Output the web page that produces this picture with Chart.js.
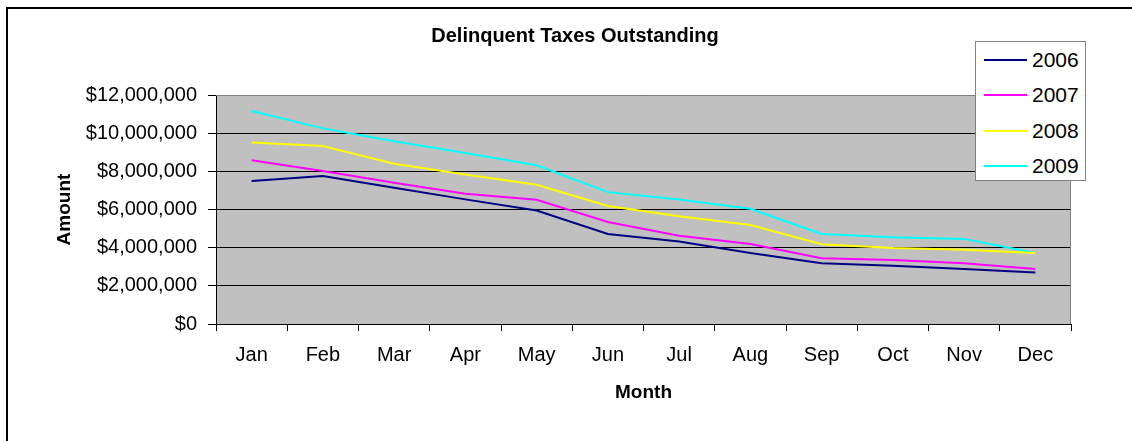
<!DOCTYPE html>
<html>
<head>
<meta charset="utf-8">
<script src="https://cdn.jsdelivr.net/npm/chart.js@4.4.0/dist/chart.umd.min.js"></script>
<style>
  body { margin: 0; background: #fff; font-family: Arial, "Liberation Sans", sans-serif; overflow: hidden; }
  #wrap { position: relative; width: 1132px; height: 441px; overflow: hidden; }
  #frame { position: absolute; left: 6px; top: 7px; width: 1200px; height: 500px;
           border-left: 2px solid #000; border-top: 2px solid #000; }
  #titulo { position: absolute; left: 0; top: 23px; width: 1150px; text-align: center;
            font-weight: bold; font-size: 20px; line-height: 24px; color: #000; }
  #legenda { position: absolute; left: 975px; top: 41px; width: 109px; height: 138px;
             background: #fff; border: 1px solid #808080; }
  .item { position: absolute; left: 0; height: 24px; font-size: 21px; line-height: 24px; }
  .item span.linha { position: absolute; left: 8px; top: 11px; width: 43px; height: 2px; }
  .item span.txt { position: absolute; left: 56px; top: 0; }
  canvas { position: absolute; left: 0; top: 0; }
</style>
</head>
<body>
<div id="wrap">
  <div id="frame"></div>
  <canvas id="grafico" width="1132" height="441"></canvas>
  <div id="titulo">Delinquent Taxes Outstanding</div>
  <div id="legenda"></div>
</div>
<script>
const meses = ["Jan", "Feb", "Mar", "Apr", "May", "Jun", "Jul", "Aug", "Sep", "Oct", "Nov", "Dec"];
const anos = ["2006", "2007", "2008", "2009"];
const cores = ["#000080", "#FF00FF", "#FFFF00", "#00FFFF"];

const valores2006 = [7490000, 7750000, 7140000, 6530000, 5950000, 4720000, 4320000, 3720000, 3180000, 3050000, 2880000, 2700000];
const valores2007 = [8580000, 8020000, 7400000, 6820000, 6510000, 5350000, 4630000, 4190000, 3440000, 3350000, 3180000, 2880000];
const valores2008 = [9510000, 9330000, 8400000, 7840000, 7300000, 6180000, 5650000, 5190000, 4180000, 3980000, 3890000, 3720000];
const valores2009 = [11160000, 10250000, 9580000, 8960000, 8320000, 6910000, 6530000, 6040000, 4720000, 4540000, 4460000, 3720000];

const series = [valores2006, valores2007, valores2008, valores2009];

// fundo cinza da área do gráfico
const fundoPlot = {
  id: "fundoPlot",
  beforeDraw(chart) {
    const { ctx, chartArea: a } = chart;
    ctx.save();
    ctx.fillStyle = "#C0C0C0";
    ctx.fillRect(a.left, a.top, a.right - a.left, a.bottom - a.top);
    ctx.restore();
  },
  beforeDatasetsDraw(chart) {
    const { ctx, chartArea: a } = chart;
    ctx.save();
    ctx.strokeStyle = "#808080";
    ctx.lineWidth = 1;
    ctx.beginPath();
    ctx.moveTo(a.left, a.top + 0.5);
    ctx.lineTo(a.right - 0.5, a.top + 0.5);
    ctx.lineTo(a.right - 0.5, a.bottom);
    ctx.stroke();
    ctx.restore();
  },
};

const datasets = anos.map((ano, i) => ({
  label: ano,
  data: series[i],
  borderColor: cores[i],
  backgroundColor: cores[i],
  borderWidth: 2,
  pointRadius: 0,
  tension: 0,
  fill: false,
}));

new Chart(document.getElementById("grafico"), {
  type: "line",
  data: { labels: meses, datasets: datasets },
  options: {
    responsive: false,
    animation: false,
    layout: { padding: { top: 95, left: 7, right: 61, bottom: 0 } },
    plugins: {
      legend: { display: false },
      title: { display: false },
      tooltip: { enabled: false },
    },
    scales: {
      x: {
        offset: true,
        afterFit: (scale) => { scale.height = 117; },
        grid: { offset: true, drawOnChartArea: false, tickLength: 7, color: "#000" },
        border: { color: "#000", width: 1 },
        ticks: { color: "#000", padding: 12, font: { family: "Arial, 'Liberation Sans'", size: 20 } },
        title: {
          display: true,
          text: "Month",
          color: "#000",
          padding: { top: 0, bottom: 37 },
          font: { family: "Arial, 'Liberation Sans'", size: 19, weight: "bold" },
        },
      },
      y: {
        min: 0,
        max: 12000000,
        afterFit: (scale) => { scale.width = 209; },
        grid: { color: "#000", tickLength: 8 },
        border: { color: "#000", width: 1 },
        ticks: {
          stepSize: 2000000,
          color: "#000",
          padding: 11,
          font: { family: "Arial, 'Liberation Sans'", size: 20 },
          callback: (v) => "$" + v.toLocaleString("en-US"),
        },
        title: {
          display: true,
          text: "Amount",
          color: "#000",
          padding: { top: 46, bottom: 0 },
          font: { family: "Arial, 'Liberation Sans'", size: 19, weight: "bold" },
        },
      },
    },
  },
  plugins: [fundoPlot],
});

// legenda em HTML
const legenda = document.getElementById("legenda");
const linhasY = [6, 41, 77, 112];
anos.forEach((ano, i) => {
  const item = document.createElement("div");
  item.className = "item";
  item.style.top = linhasY[i] + "px";
  item.innerHTML = `<span class="linha" style="background:${cores[i]}"></span><span class="txt">${ano}</span>`;
  legenda.appendChild(item);
});
</script>
</body>
</html>
